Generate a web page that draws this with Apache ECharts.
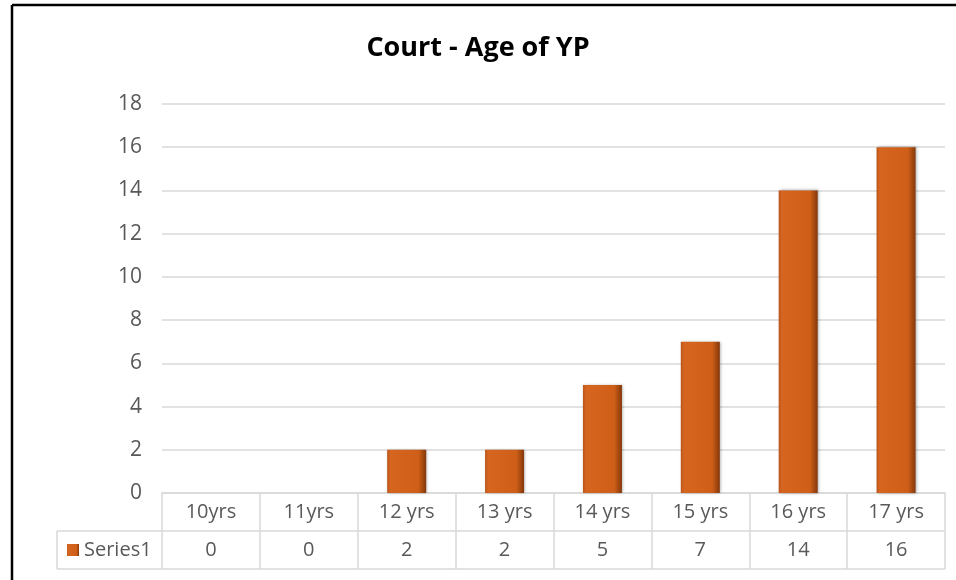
<!DOCTYPE html>
<html>
<head>
<meta charset="utf-8">
<script src="https://cdn.jsdelivr.net/npm/echarts@6/dist/echarts.min.js"></script>
<style>
html, body { margin: 0; padding: 0; background: #fff; }
#court-age-container { width: 956px; height: 580px; }
</style>
</head>
<body>
<div id="court-age-container"></div>
<script>
// data
const categories = ['10yrs', '11yrs', '12 yrs', '13 yrs', '14 yrs', '15 yrs', '16 yrs', '17 yrs']
const series1 = [0, 0, 2, 2, 5, 7, 14, 16]
const seriesName = 'Series1'
const yTicks = { min: 0, max: 18, interval: 2 }

const gridLeft = 162
const gridRight = 11
const gridTop = 104
const gridBottom = 87
const rowH = 38
const tableLeft = 57
const lineColor = '#d9d9d9'
const textColor = '#595959'
const font = 'Open Sans'

const myChart = echarts.init(document.getElementById('court-age-container'))
const axisY = 580 - gridBottom
const tableRight = 956 - gridRight

const barColor = new echarts.graphic.LinearGradient(0, 0, 1, 0, [
  { offset: 0, color: '#b9551a' },
  { offset: 0.08, color: '#d6651f' },
  { offset: 0.8, color: '#cf5f18' },
  { offset: 1, color: '#84380b' }
])

const option = {
  animation: false,
  title: {
    text: 'Court - Age of YP',
    left: 'center',
    top: 30,
    textStyle: { fontFamily: font, fontSize: 27, fontWeight: 'bold', color: '#000' }
  },
  grid: { left: gridLeft, right: gridRight, top: gridTop, bottom: gridBottom },
  xAxis: {
    type: 'category',
    data: categories,
    axisLine: { lineStyle: { color: lineColor, width: 1.5 } },
    axisTick: { show: true, length: rowH * 2, interval: 0, lineStyle: { color: lineColor, width: 1.5 } },
    axisLabel: {
      interval: 0,
      margin: 0,
      formatter: (val, idx) => '{c|' + val + '}\n{v|' + series1[idx] + '}',
      rich: {
        c: { fontFamily: font, fontSize: 20, color: textColor, lineHeight: rowH },
        v: { fontFamily: font, fontSize: 20, color: textColor, lineHeight: rowH }
      }
    }
  },
  yAxis: {
    type: 'value',
    min: yTicks.min,
    max: yTicks.max,
    interval: yTicks.interval,
    axisLine: { show: false },
    axisTick: { show: false },
    axisLabel: { fontFamily: font, fontSize: 21, color: textColor, margin: 20 },
    splitLine: { lineStyle: { color: lineColor, width: 1.5 } }
  },
  series: [
    {
      name: seriesName,
      type: 'bar',
      data: series1,
      barWidth: 39,
      itemStyle: {
        color: barColor,
        shadowBlur: 3,
        shadowColor: 'rgba(0,0,0,0.35)',
        shadowOffsetX: 1,
        shadowOffsetY: 0
      }
    }
  ],
  graphic: [
    // outer chart frame (left + top edges visible)
    { type: 'line', shape: { x1: 12, y1: 5, x2: 12, y2: 580 }, style: { stroke: '#000', lineWidth: 2.5 } },
    { type: 'line', shape: { x1: 12, y1: 5, x2: 956, y2: 5 }, style: { stroke: '#000', lineWidth: 2.5 } },
    // data table rows
    { type: 'line', shape: { x1: tableLeft, y1: axisY + rowH, x2: tableRight, y2: axisY + rowH }, style: { stroke: lineColor, lineWidth: 1.5 } },
    { type: 'line', shape: { x1: tableLeft, y1: axisY + rowH * 2, x2: tableRight, y2: axisY + rowH * 2 }, style: { stroke: lineColor, lineWidth: 1.5 } },
    { type: 'line', shape: { x1: tableLeft, y1: axisY + rowH, x2: tableLeft, y2: axisY + rowH * 2 }, style: { stroke: lineColor, lineWidth: 1.5 } },
    // legend key in the table
    { type: 'rect', shape: { x: 67, y: axisY + rowH + 13, width: 12, height: 12 }, style: { fill: barColor } },
    {
      type: 'text',
      x: 84,
      y: axisY + rowH * 1.5,
      style: { text: seriesName, fontFamily: font, fontSize: 20, fill: textColor, verticalAlign: 'middle' }
    }
  ]
}
myChart.setOption(option)
</script>
</body>
</html>
